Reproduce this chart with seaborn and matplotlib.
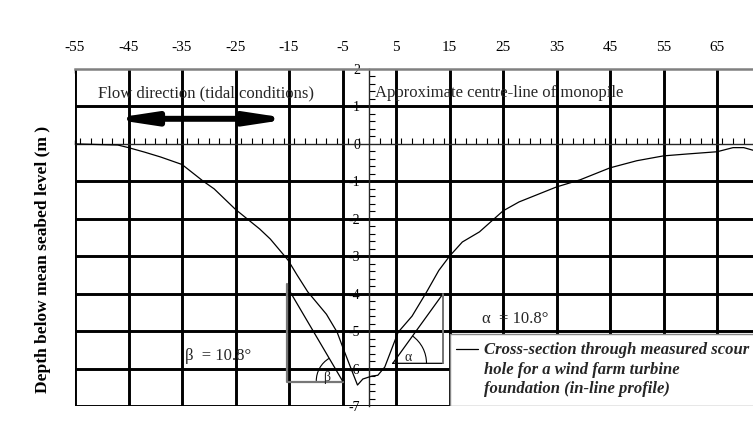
import matplotlib
matplotlib.use("Agg")
import matplotlib.pyplot as plt
from matplotlib.patches import Arc, Rectangle
from matplotlib.lines import Line2D
from matplotlib.ticker import MultipleLocator
import seaborn as sns

# measured scour hole profile (distance m, depth m)
distance = [-55, -50, -47, -45, -42, -39, -35, -31, -29, -25, -20.5, -18.5,
            -15.2, -13.5, -11.5, -8, -6, -4.9, -3.6, -2.2, -1.2, 0.5, 1.6,
            2.9, 4.4, 5.4, 8, 10.7, 13, 15, 17.4, 20.6, 25, 28, 35, 39.4,
            45, 50, 55, 59.4, 65, 68, 70, 72, 75]
depth = [0.0, -0.02, -0.03, -0.1, -0.22, -0.35, -0.55, -1.0, -1.2, -1.75,
         -2.27, -2.54, -3.1, -3.5, -3.95, -4.55, -5.03, -5.45, -5.93, -6.44,
         -6.28, -6.2, -6.18, -5.96, -5.4, -5.03, -4.6, -3.96, -3.38, -3.0,
         -2.62, -2.35, -1.79, -1.55, -1.15, -0.96, -0.64, -0.45, -0.32,
         -0.27, -0.21, -0.1, -0.1, -0.18, -0.25]

x_ticks = [-55, -45, -35, -25, -15, -5, 5, 15, 25, 35, 45, 55, 65]
y_ticks = [-7, -6, -5, -4, -3, -2, -1, 0, 1, 2]

# slope triangles: (x, y) of the corner with the angle, and of the top corner
beta_corner = (-5, -6.33)
beta_top = (-15.0, -3.9)
beta_box_x = -15.3
beta_box_top = -3.75
alpha_corner = (4.4, -5.86)
alpha_top = (13.8, -4.0)

legend_lines = ["Cross-section through measured scour",
                "hole for a wind farm turbine",
                "foundation (in-line profile)"]

sns.set_theme(style="white")
plt.rcParams["font.family"] = ["Liberation Serif", "DejaVu Serif"]
plt.rcParams["axes.unicode_minus"] = False

fig = plt.figure(figsize=(7.53, 4.21), dpi=100)
ax = fig.add_axes([75 / 753, 15 / 421, 695.5 / 753, 337 / 421])
ax.set_xlim(-55, 75)
ax.set_ylim(-7, 2)

# grid
for xv in x_ticks:
    ax.axvline(xv, color="black", lw=2.1, zorder=1)
for yv in y_ticks:
    if yv not in (0, 2):
        ax.axhline(yv, color="black", lw=2.1, zorder=1)

# legend background box
ax.add_patch(Rectangle((15, -7), 60, 1.93, facecolor="white",
                       edgecolor="#888888", lw=1.0, zorder=2))

sns.lineplot(x=distance, y=depth, ax=ax, color="black", lw=0.9,
             sort=False, estimator=None, zorder=4, label=legend_lines[0])

# spines
ax.spines["left"].set_position(("data", 0))
ax.spines["bottom"].set_position(("data", 0))
ax.spines["left"].set_linewidth(1.0)
ax.spines["bottom"].set_linewidth(1.0)
ax.spines["right"].set_visible(False)
ax.spines["top"].set_color("#808080")
ax.spines["top"].set_linewidth(1.8)
for s in ax.spines.values():
    s.set_zorder(3)

ax.set_xticks(x_ticks)
ax.xaxis.set_minor_locator(MultipleLocator(2))
ax.tick_params(axis="x", which="major", top=True, labeltop=True,
               bottom=True, labelbottom=False, direction="in", length=3,
               width=1, pad=11, labelsize=11, color="black",
               labelcolor="black")
ax.tick_params(axis="x", which="minor", top=False, bottom=True,
               direction="in", length=4, width=0.8, color="black")
ax.set_yticks(y_ticks)
ax.set_yticklabels([str(v) for v in y_ticks])
ax.yaxis.set_minor_locator(MultipleLocator(0.2))
ax.tick_params(axis="y", which="major", left=True, direction="in",
               length=0, pad=6.5, labelsize=10, labelcolor="black")
ax.tick_params(axis="y", which="minor", left=True, direction="in",
               length=4, width=0.8, color="black")

fig.text(43 / 753, 1 - 259 / 421, "Depth below mean seabed level (m )",
         rotation=90, ha="center", va="center", fontsize=12.5,
         fontweight="bold", color="black")

# annotations
ax.text(-30.6, 1.35, "Flow direction (tidal conditions)", ha="center",
        va="center", fontsize=12, zorder=5)
ax.text(1.0, 1.35, "Approximate centre-line of monopile", ha="left",
        va="center", fontsize=12, zorder=5)
ax.annotate("", xy=(-48.4, 0.67), xytext=(-14.6, 0.67), zorder=5,
            arrowprops=dict(arrowstyle="<|-|>,head_length=2.3,head_width=0.35",
                            mutation_scale=10, lw=4.3, color="black",
                            shrinkA=0, shrinkB=0))

# beta triangle
ax.plot([beta_box_x, beta_box_x, beta_corner[0]],
        [beta_box_top, beta_corner[1] - 0.04, beta_corner[1] - 0.04],
        color="#777777", lw=1.6, zorder=4)
ax.plot([beta_top[0], beta_corner[0]], [beta_top[1], beta_corner[1]],
        color="black", lw=0.9, zorder=4)
ax.add_patch(Arc(beta_corner, 9.8, 1.4, theta1=166.5, theta2=180,
                 color="black", lw=0.8, zorder=4))
ax.text(-7.9, -6.23, "β", ha="center", va="center", fontsize=10, zorder=5)
ax.text(-34.4, -5.67, "β  = 10.8°", ha="left", va="center", fontsize=12,
        zorder=5)

# alpha triangle
ax.plot([alpha_corner[0], alpha_top[0], alpha_top[0], alpha_corner[0]],
        [alpha_corner[1], alpha_top[1], alpha_corner[1], alpha_corner[1]],
        color="black", lw=0.9, zorder=4)
ax.plot([alpha_top[0], alpha_top[0]], [alpha_top[1], alpha_corner[1]],
        color="#777777", lw=1.4, zorder=4)
ax.add_patch(Arc(alpha_corner, 12.6, 1.8, theta1=0, theta2=11.2,
                 color="black", lw=0.8, zorder=4))
ax.text(7.2, -5.7, "α", ha="center", va="center", fontsize=10, zorder=5)
ax.text(21.1, -4.68, "α  = 10.8°", ha="left", va="center", fontsize=12,
        zorder=5)

# legend: first entry carries the line, the others continue the label
handles, labels = ax.get_legend_handles_labels()
handles += [Line2D([], [], color="none"), Line2D([], [], color="none")]
labels += legend_lines[1:]
leg = ax.legend(handles, labels, loc="upper left",
                bbox_to_anchor=((16.2 + 55) / 130, (-5.3 + 7) / 9),
                frameon=False, handlelength=1.3, handletextpad=0.4,
                labelspacing=0.2, borderaxespad=0, borderpad=0,
                prop=dict(family="Liberation Serif", weight="bold",
                          style="italic", size=12))
leg.set_zorder(6)

fig.savefig("out.png", dpi=100)
